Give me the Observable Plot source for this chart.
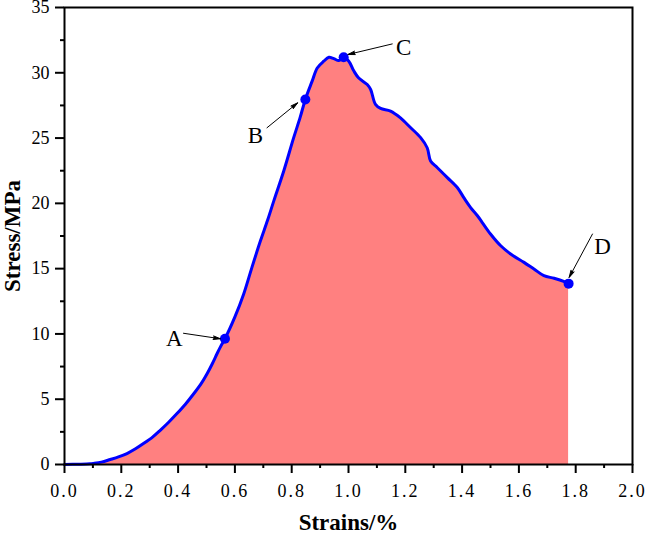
<!DOCTYPE html>
<html><head><meta charset="utf-8">
<script src="https://cdn.jsdelivr.net/npm/d3@7"></script>
<script src="https://cdn.jsdelivr.net/npm/@observablehq/plot@0.6"></script>
<style>
body{margin:0;background:#fff;}
</style></head><body><div id="chart"></div>
<script>
// Stress–strain curve
const strain = [0,0.05,0.09,0.102,0.13,0.161,0.19,0.22,0.25,0.278,0.31,0.337,0.365,0.396,0.425,0.455,0.48,0.502,0.52,0.537,0.55,0.565,0.6,0.631,0.66,0.69,0.715,0.737,0.772,0.807,0.83,0.848,0.872,0.89,0.913,0.931,0.948,0.966,0.983,1.001,1.019,1.036,1.066,1.078,1.095,1.113,1.148,1.183,1.219,1.254,1.277,1.289,1.313,1.348,1.383,1.406,1.43,1.454,1.471,1.5,1.536,1.571,1.618,1.653,1.688,1.724,1.76,1.775];
const stress = [0,0.02,0.05,0.08,0.18,0.38,0.58,0.84,1.2,1.6,2.1,2.62,3.2,3.9,4.6,5.42,6.15,6.95,7.7,8.48,9.05,9.63,11.3,13.06,15.1,17.13,18.7,20.19,22.48,25.03,26.6,27.96,29.36,30.37,30.89,31.19,31.09,30.94,31.19,30.89,30.13,29.6,29.1,28.72,27.58,27.27,27.07,26.55,25.79,25.03,24.26,23.25,22.73,21.97,21.21,20.44,19.68,19.05,18.53,17.65,16.75,16.12,15.48,14.97,14.46,14.26,14.0,13.85];

// Marked points A–D
const pointNames = ["A","B","C","D"];
const pointX = [0.565,0.848,0.983,1.775];
const pointY = [9.63,27.96,31.19,13.85];

// Annotation labels and arrows (data coordinates)
const labelX = [0.387,0.672,1.194,1.895];
const labelY = [9.65,25.16,31.96,16.68];
const arrowX1 = [0.419,0.713,1.154,1.859];
const arrowY1 = [10.05,25.79,32.21,17.65];
const arrowX2 = [0.549,0.821,0.998,1.777];
const arrowY2 = [9.63,27.7,31.4,14.33];

// Ticks
const xMajor = [0,0.2,0.4,0.6,0.8,1.0,1.2,1.4,1.6,1.8,2.0];
const xMinor = [0.1,0.3,0.5,0.7,0.9,1.1,1.3,1.5,1.7,1.9];
const yMajor = [0,5,10,15,20,25,30,35];
const yMinor = [2.5,7.5,12.5,17.5,22.5,27.5,32.5];

const xTitle = "Strains/%";
const yTitle = "Stress/MPa";

const curve = strain.map((x, i) => ({x, y: stress[i]}));
const points = pointNames.map((n, i) => ({n, x: pointX[i], y: pointY[i]}));
const labels = pointNames.map((n, i) => ({n, x: labelX[i], y: labelY[i]}));
const arrows = pointNames.map((n, i) => ({x1: arrowX1[i], y1: arrowY1[i], x2: arrowX2[i], y2: arrowY2[i]}));

const chart = Plot.plot({
  width: 646, height: 534,
  marginLeft: 64, marginRight: 14, marginTop: 7, marginBottom: 70,
  style: {fontFamily: "'Liberation Serif', serif", fontSize: "18px", background: "#fff", color: "#000"},
  x: {domain: [0, 2], label: null},
  y: {domain: [0, 35], label: null},
  marks: [
    Plot.areaY(curve, {x: "x", y: "y", fill: "#ff8080", curve: "catmull-rom"}),
    Plot.line(curve, {x: "x", y: "y", stroke: "#0000ff", strokeWidth: 3, curve: "catmull-rom"}),
    Plot.dot(points, {x: "x", y: "y", r: 5, fill: "#0000ff"}),
    Plot.arrow(arrows, {x1: "x1", y1: "y1", x2: "x2", y2: "y2", stroke: "#000", strokeWidth: 1, headLength: 11, headAngle: 28}),
    Plot.text(labels, {x: "x", y: "y", text: "n", fontSize: 23, fill: "#000"}),
    Plot.frame({stroke: "#000", strokeWidth: 2}),
    Plot.axisX({ticks: xMajor, tickSize: 9, tickPadding: 11, strokeWidth: 2, tickFormat: d => d.toFixed(1), label: null}),
    Plot.axisX({ticks: xMinor, tickSize: 4, strokeWidth: 2, tickFormat: () => "", label: null}),
    Plot.axisY({ticks: yMajor, tickSize: 9, tickPadding: 6, strokeWidth: 2, tickFormat: d => String(d), label: null}),
    Plot.axisY({ticks: yMinor, tickSize: 4, strokeWidth: 2, tickFormat: () => "", label: null}),
    Plot.text([xTitle], {text: d => d, frameAnchor: "bottom", textAnchor: "middle", lineAnchor: "middle", dy: 58, fontSize: 23, fontWeight: "bold", fill: "#000"}),
    Plot.text([yTitle], {text: d => d, frameAnchor: "left", textAnchor: "middle", lineAnchor: "middle", dx: -52, rotate: -90, fontSize: 23, fontWeight: "bold", fill: "#000"})
  ]
});
chart.querySelectorAll('g[aria-label="arrow"]').forEach(g => g.setAttribute("fill", "#000"));
chart.querySelectorAll('g[aria-label="x-axis tick label"] text').forEach(t => t.setAttribute("letter-spacing", "2"));
document.getElementById("chart").appendChild(chart);
</script></body></html>
